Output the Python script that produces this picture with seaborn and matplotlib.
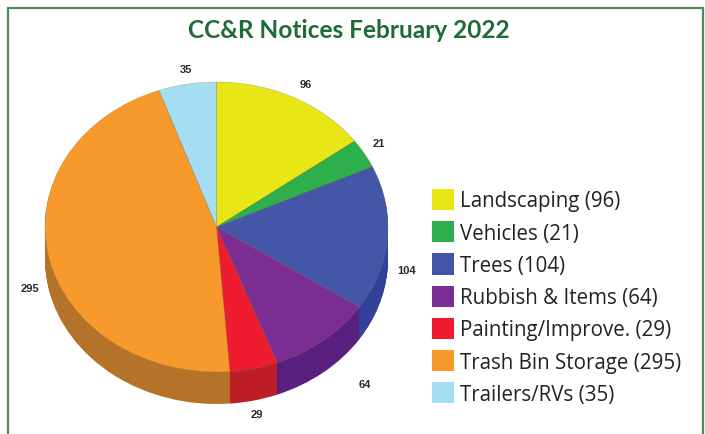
import seaborn as sns
import matplotlib.pyplot as plt
from matplotlib.patches import Rectangle

# Data
categories = ['Landscaping', 'Vehicles', 'Trees', 'Rubbish & Items', 'Painting/Improve.', 'Trash Bin Storage', 'Trailers/RVs']
counts = [96, 21, 104, 64, 29, 295, 35]
top_colors = ['#E8E615', '#2DB04B', '#4356A8', '#7B2D92', '#EE1C2E', '#F7992B', '#A5DDF2']
side_colors = ['#A8A60F', '#1F7D35', '#34409A', '#5A2080', '#BE1E25', '#B5732A', '#7AA5B5']
title = 'CC&R Notices February 2022'

W, H = 705, 435
sns.set_theme(style='white')
plt.rcParams['font.family'] = ['Lato', 'DejaVu Sans']

fig = plt.figure(figsize=(W / 100, H / 100), dpi=100, facecolor='#FDFDFB')

# Green frame, open at the bottom of the picture
fig.add_artist(Rectangle((8 / W, -0.02), 695 / W, 1.02 - 9 / H, transform=fig.transFigure,
                         facecolor='white', edgecolor='#4F8A5B', linewidth=1.6, zorder=-1))

# Pie axes, the unit circle gets squashed to an ellipse
rx, ry, depth = 171.5, 145, 32
ax = fig.add_axes([45 / W, 1 - (83 + 2 * ry + depth) / H, 2 * rx / W, (2 * ry + depth) / H])

# Stack of darker pies makes the side wall
for i in range(depth, 0, -1):
    ax.pie(counts, colors=side_colors, startangle=90, counterclock=False,
           center=(0, -i / ry), wedgeprops={'linewidth': 0})
wedges, _ = ax.pie(counts, colors=top_colors, startangle=90, counterclock=False,
                   wedgeprops={'linewidth': 0.2, 'edgecolor': '#8a7a50'})
ax.set_aspect('auto')
ax.set_xlim(-1, 1)
ax.set_ylim(1 - (2 * ry + depth) / ry, 1)
ax.axis('off')

# Value labels, at picture pixels
label_xy = [(306, 85), (379, 144), (407, 271), (365, 385), (257, 415), (30, 289), (186, 70)]
for value, (x, y) in zip(counts, label_xy):
    fig.text(x / W, 1 - y / H, str(value), family='Liberation Sans', fontweight='bold',
             fontsize=8, color='#2a2a2a', ha='center', va='center')

fig.text(349 / W, 1 - 30 / H, title, fontsize=17.6, fontweight='bold', color='#1E6B35',
         ha='center', va='center')

labels = [f'{c} ({v})' for c, v in zip(categories, counts)]
leg = fig.legend(wedges, labels, loc='upper left', bbox_to_anchor=(426 / W, 1 - 184 / H), frameon=False,
                 labelcolor='#222222', handlelength=1.07, handleheight=1.2,
                 handletextpad=0.29, labelspacing=0.475, borderpad=0.29, borderaxespad=0,
                 prop={'family': 'Open Sans', 'size': 14.8})
for h in leg.legend_handles:
    h.set_edgecolor('none')

fig.savefig('out.png', dpi=100, facecolor=fig.get_facecolor())
